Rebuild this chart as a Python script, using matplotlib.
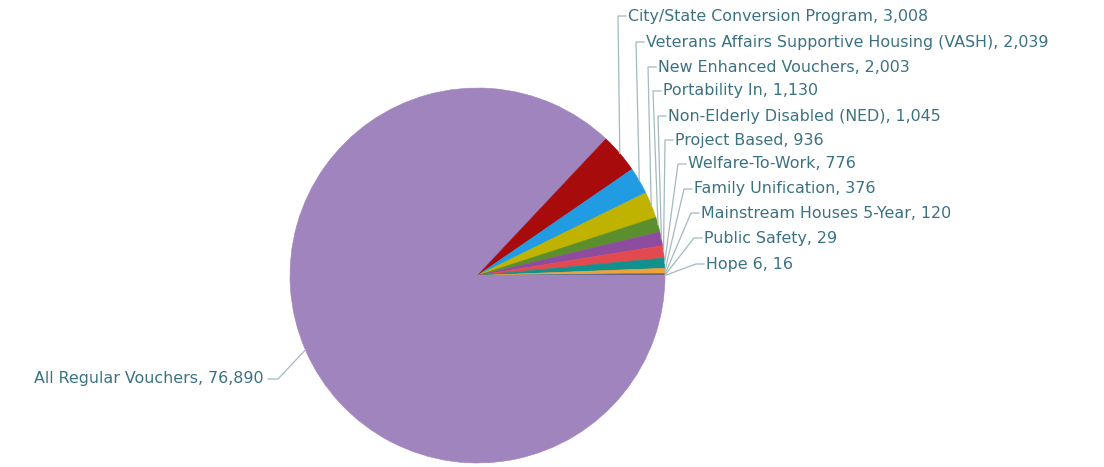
import numpy as np
import matplotlib
matplotlib.use("Agg")
import matplotlib.pyplot as plt

# Voucher counts by program
programs = [
    "All Regular Vouchers",
    "City/State Conversion Program",
    "Veterans Affairs Supportive Housing (VASH)",
    "New Enhanced Vouchers",
    "Portability In",
    "Non-Elderly Disabled (NED)",
    "Project Based",
    "Welfare-To-Work",
    "Family Unification",
    "Mainstream Houses 5-Year",
    "Public Safety",
    "Hope 6",
]
vouchers = [76890, 3008, 2039, 2003, 1130, 1045, 936, 776, 376, 120, 29, 16]
slice_colors = [
    "#a084bd", "#a80b0b", "#219ce2", "#bfb300", "#5b8f2d", "#8e4c9e",
    "#e24a50", "#11908d", "#f0a23a", "#4572a7", "#aa4643", "#89a54e",
]

W, H = 1104, 467
TEXT_COLOR = "#3a7282"
LINE_COLOR = "#a3b9c0"

# pie placement in pixel units (y measured from the top)
cx, cy, radius = 477.5, 275.5, 187.5

# label anchor for each slice: (text x, text y) in pixels from top-left
label_pos = [
    (264, 379),
    (628, 16), (646, 42), (658, 67), (663, 91), (668, 116), (675, 140),
    (688, 164), (694, 189), (701, 213), (704, 238), (706, 264),
]

fig = plt.figure(figsize=(W / 100, H / 100), dpi=100)
ax = fig.add_axes([0, 0, 1, 1])

wedges, _ = ax.pie(
    vouchers,
    colors=slice_colors,
    startangle=0,
    counterclock=False,
    center=(cx, H - cy),
    radius=radius,
    frame=True,
    wedgeprops=dict(linewidth=0.4, antialiased=True),
)
for w, c in zip(wedges, slice_colors):
    w.set_edgecolor(c)

ax.set_xlim(0, W)
ax.set_ylim(0, H)
ax.set_aspect("auto")
ax.axis("off")

for name, val, w, (tx, ty) in zip(programs, vouchers, wedges, label_pos):
    mid = np.deg2rad((w.theta1 + w.theta2) / 2)
    ex = cx + radius * np.cos(mid)
    ey = H - cy + radius * np.sin(mid)
    ly = H - ty
    if tx > cx:
        bend_x, end_x, ha = tx - 10, tx - 2, "left"
    else:
        bend_x, end_x, ha = tx + 14, tx + 4, "right"
    ax.plot([ex, bend_x, end_x], [ey, ly, ly], color=LINE_COLOR, lw=0.9,
            solid_joinstyle="miter")
    ax.text(tx, ly, f"{name}, {val:,}", ha=ha, va="center", fontsize=11.4,
            color=TEXT_COLOR, family="DejaVu Sans")

fig.savefig("out.png", dpi=100, facecolor="white")
